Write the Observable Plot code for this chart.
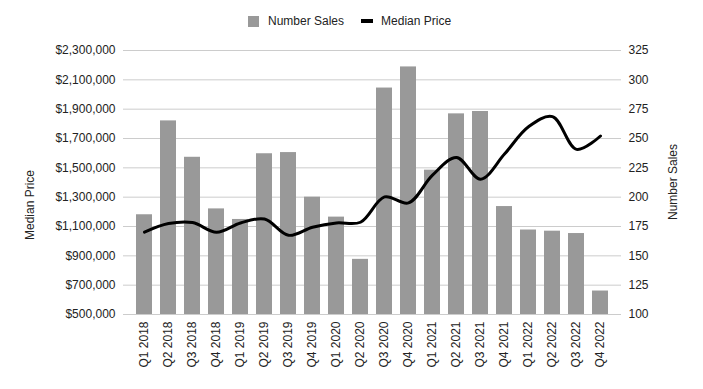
<!DOCTYPE html>
<html>
<head>
<meta charset="utf-8">
<script src="https://cdn.jsdelivr.net/npm/d3@7"></script>
<script src="https://cdn.jsdelivr.net/npm/@observablehq/plot@0.6"></script>
<style>
  html, body { margin: 0; padding: 0; background: #fff; }
  #wrap { position: relative; width: 703px; height: 389px; font-family: "Liberation Sans", Arial, sans-serif; color: #222; }
  #wrap svg { position: absolute; left: 0; top: 0; }
  .legend { position: absolute; top: 14px; left: 248px; display: flex; align-items: center; font-size: 12px; color: #222; white-space: nowrap; }
  .sw-bar { width: 11px; height: 11px; background: #999999; margin-right: 9px; }
  .sw-line { width: 12px; height: 4px; background: #000; margin-left: 17px; margin-right: 8px; }
  .ytitle { position: absolute; font-size: 12px; color: #222; white-space: nowrap; transform: translate(-50%, -50%) rotate(-90deg); }
</style>
</head>
<body>
<div id="wrap">
  <div class="legend"><div class="sw-bar"></div><span>Number Sales</span><div class="sw-line"></div><span>Median Price</span></div>
  <div class="ytitle" style="left:30px; top:205px;">Median Price</div>
  <div class="ytitle" style="left:673px; top:182px;">Number Sales</div>
</div>
<script>
const quarters = ["Q1 2018","Q2 2018","Q3 2018","Q4 2018","Q1 2019","Q2 2019","Q3 2019","Q4 2019","Q1 2020","Q2 2020","Q3 2020","Q4 2020","Q1 2021","Q2 2021","Q3 2021","Q4 2021","Q1 2022","Q2 2022","Q3 2022","Q4 2022"];
const numberSales = [185,265,234,190,181,237,238,200,183,147,293,311,223,271,273,192,172,171,169,120];
const medianPrice = [1062000,1120000,1127000,1060000,1124000,1151000,1040000,1095000,1124000,1129000,1302000,1261000,1450000,1571000,1423000,1594000,1780000,1849000,1626000,1717000];
const priceTicks = [500000,700000,900000,1100000,1300000,1500000,1700000,1900000,2100000,2300000];
const salesTicks = [100,125,150,175,200,225,250,275,300,325];

const data = quarters.map((q, i) => ({q, sales: numberSales[i], price: medianPrice[i]}));

const common = {
  width: 703, height: 389,
  marginTop: 50, marginBottom: 75, marginLeft: 123, marginRight: 82,
  style: {fontSize: "12px", fontFamily: "'Liberation Sans', Arial, sans-serif", color: "#222", background: "transparent", overflow: "visible"}
};
const xOpts = {type: "band", domain: quarters, paddingInner: 0.35, paddingOuter: 0.285};

const bars = Plot.plot({
  ...common,
  x: {...xOpts},
  y: {domain: [salesTicks[0], salesTicks[salesTicks.length - 1]]},
  marks: [
    Plot.gridY(salesTicks, {stroke: "#cccccc", strokeOpacity: 1}),
    Plot.barY(data, {x: "q", y1: salesTicks[0], y2: "sales", fill: "#999999"}),
    Plot.axisX({tickRotate: -90, tickSize: 0, tickPadding: 7, label: null, fill: "#222"}),
    Plot.axisY(salesTicks, {anchor: "right", tickSize: 0, tickPadding: 7, label: null, fill: "#222"})
  ]
});

const line = Plot.plot({
  ...common,
  x: {...xOpts, axis: null},
  y: {domain: [priceTicks[0], priceTicks[priceTicks.length - 1]]},
  marks: [
    Plot.line(data, {x: "q", y: "price", stroke: "#000", strokeWidth: 3, curve: "catmull-rom"}),
    Plot.axisY(priceTicks, {anchor: "left", tickSize: 0, tickPadding: 8, label: null, fill: "#222", tickFormat: d => "$" + d3.format(",")(d)})
  ]
});

const wrap = document.getElementById("wrap");
wrap.insertBefore(bars, wrap.firstChild);
wrap.insertBefore(line, bars.nextSibling);
</script>
</body>
</html>
